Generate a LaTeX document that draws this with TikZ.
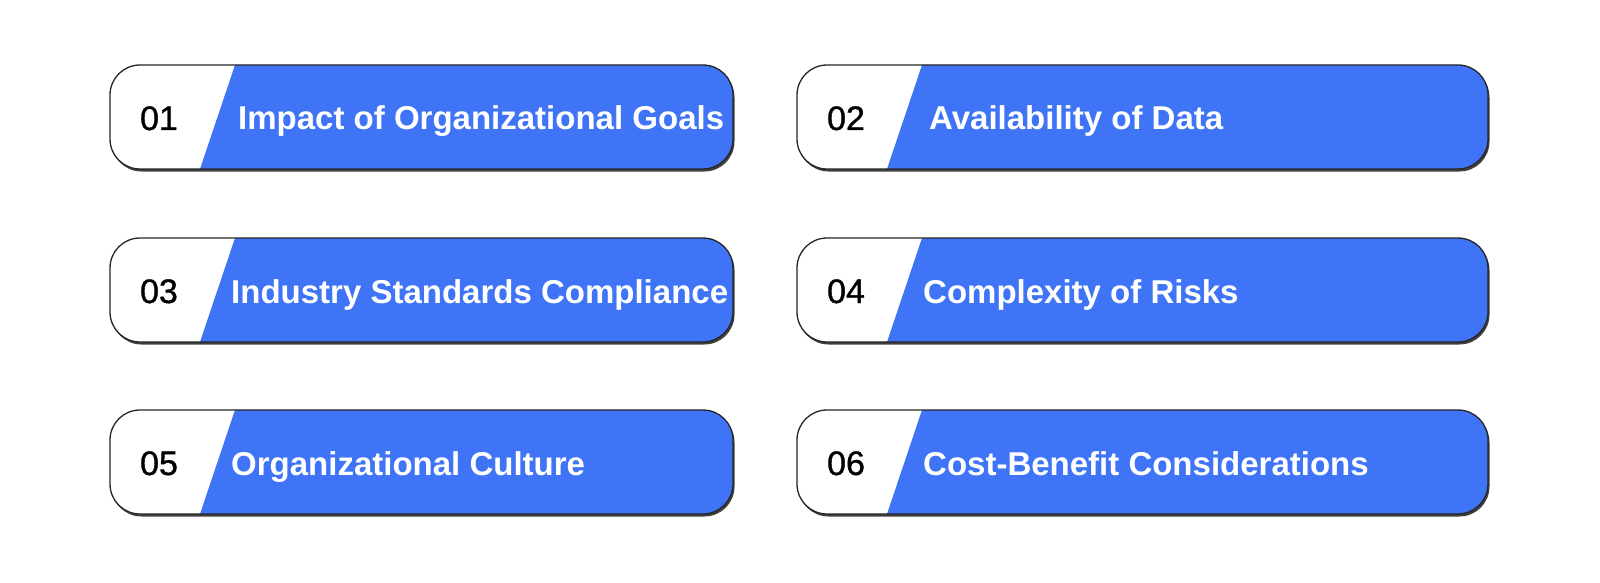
\documentclass[tikz,border=0pt]{standalone}
\usepackage{fontspec}
\setmainfont{Liberation Sans}
\newfontfamily\numfont[FakeBold=1]{Liberation Sans}
\definecolor{boxblue}{RGB}{62,116,245}

\begin{document}
\begin{tikzpicture}[x=1pt,y=-1pt,
  boxline/.style={draw=black!85,line width=1.3pt,rounded corners=30pt},
  numtext/.style={font=\numfont\fontsize{34}{34}\selectfont,text=black,anchor=base,inner sep=0pt},
  lbltext/.style={font=\bfseries\fontsize{33}{33}\selectfont,text=white,anchor=base west,inner sep=0pt}]
  \useasboundingbox (0,0) rectangle (1600,583);
  \foreach \n/\x/\y/\w/\t/\txt in {
      01/110/65/623/128/Impact of Organizational Goals,
      02/797/65/691/132/Availability of Data,
      03/110/238/623/121/Industry Standards Compliance,
      04/797/238/691/126/Complexity of Risks,
      05/110/410/623/121/Organizational Culture,
      06/797/410/691/126/Cost-Benefit Considerations}{
    % Shadow
    \fill[black!75,rounded corners=30pt] (\x+1.5,\y+2.5) rectangle ++(\w,104);
    % White tab and blue band
    \begin{scope}
      \clip[rounded corners=30pt] (\x,\y) rectangle ++(\w,104);
      \fill[white] (\x,\y) rectangle ++(\w,104);
      \fill[boxblue] (\x+125,\y) -- (\x+\w,\y) -- (\x+\w,\y+104) -- (\x+90,\y+104) -- cycle;
    \end{scope}
    \draw[boxline] (\x,\y) rectangle ++(\w,104);
    % Texts
    \node[numtext] (num\n) at (\x+49,\y+65) {\n};
    \node[lbltext] (lbl\n) at (\x+\t,\y+65) {\txt};
  }
\end{tikzpicture}
\end{document}
